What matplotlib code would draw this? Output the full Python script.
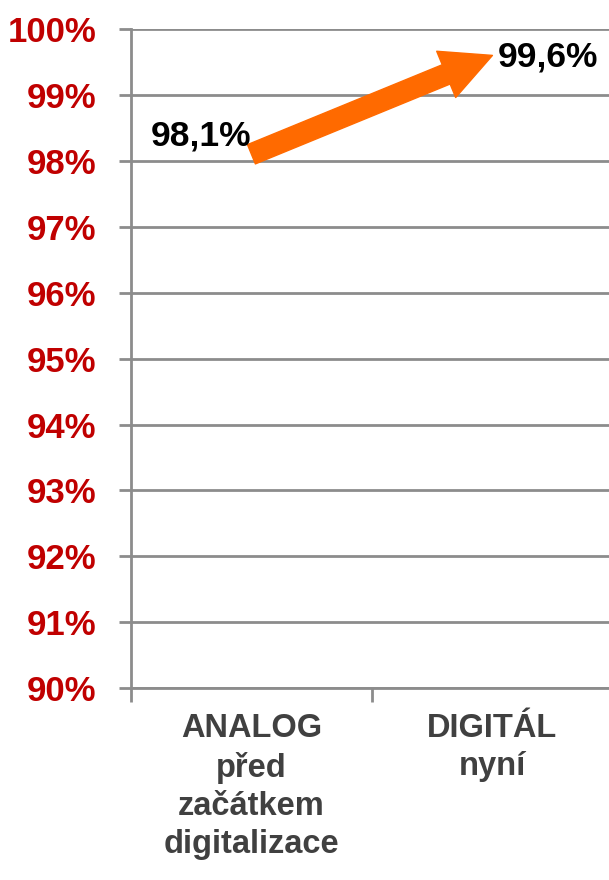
import matplotlib
matplotlib.use("Agg")
import matplotlib.pyplot as plt

# data
categories = ["ANALOG\npřed\nzačátkem\ndigitalizace", "DIGITÁL\nnyní"]
values = [98.1, 99.6]
value_labels = ["98,1%", "99,6%"]
yticks = list(range(90, 101))

plt.rcParams["font.family"] = ["Liberation Sans", "DejaVu Sans"]

fig = plt.figure(figsize=(6.09, 8.8), dpi=100)
ax = fig.add_axes([0.215, 0.218, 0.7915, 0.749])

ax.set_xlim(-0.5, 1.5)
ax.set_ylim(90, 100)
ax.set_yticks(yticks)
ax.set_yticklabels([f"{t}%" for t in yticks], color="#C00000",
                   fontsize=25, fontweight="bold")
ax.yaxis.grid(True, color="#8C8C8C", linewidth=2)
ax.set_axisbelow(True)

# category labels centred, tick marks between categories
ax.set_xticks([0, 1])
ax.set_xticklabels(categories, color="#404040", fontsize=23.5,
                   fontweight="bold", linespacing=1.3)
ax.set_xticks([-0.5, 0.5], minor=True)
ax.tick_params(axis="x", which="major", length=0, pad=18)
ax.tick_params(axis="x", which="minor", length=10, width=2, color="#8C8C8C")
ax.tick_params(axis="y", length=9, width=2, color="#8C8C8C", pad=16)

for s in ["top", "right"]:
    ax.spines[s].set_visible(False)
for s in ["left", "bottom"]:
    ax.spines[s].set_color("#8C8C8C")
    ax.spines[s].set_linewidth(2)

# arrow from analog value to digital value
ax.annotate("", xy=(1, values[1]), xytext=(0, values[0]),
            arrowprops=dict(arrowstyle="simple,head_width=3.6,head_length=3.6,tail_width=1.5",
                            mutation_scale=10, color="#FF6A00", shrinkA=0, shrinkB=0))

ax.annotate(value_labels[0], xy=(0, values[0]), xytext=(0, 1),
            textcoords="offset points", ha="right", va="bottom",
            fontsize=25.5, fontweight="bold", color="black")
ax.annotate(value_labels[1], xy=(1, values[1]), xytext=(4, -1),
            textcoords="offset points", ha="left", va="center",
            fontsize=25.5, fontweight="bold", color="black")

fig.savefig("out.png", dpi=100)
